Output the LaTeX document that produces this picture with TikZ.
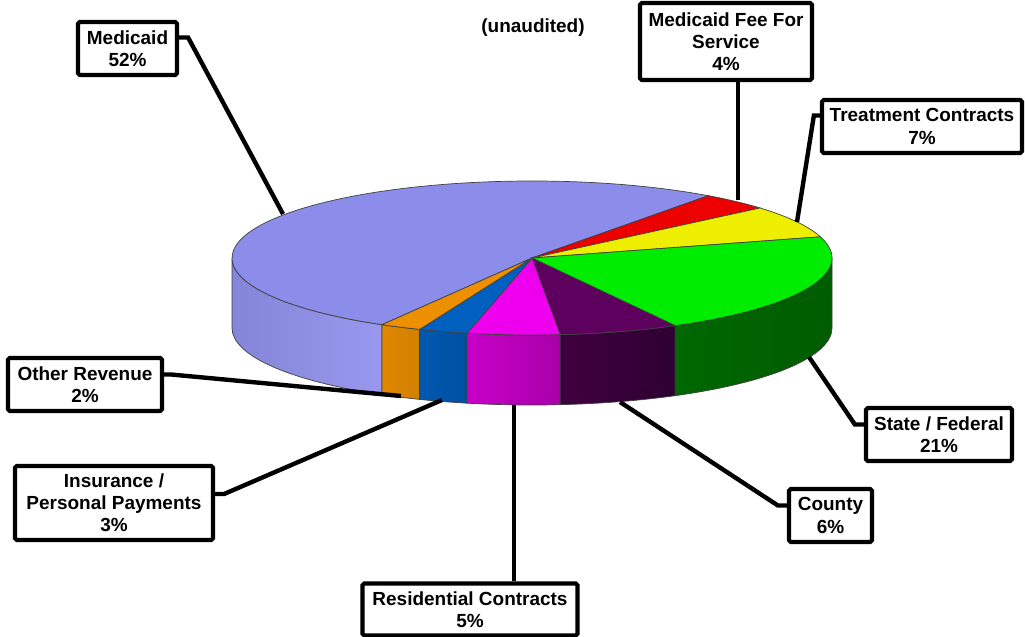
\documentclass[tikz,border=0pt]{standalone}
\usepackage{fontspec}
\setmainfont{Liberation Sans}
\usetikzlibrary{calc}

\definecolor{medtop}{RGB}{140,140,235}
\definecolor{medsideL}{RGB}{132,132,216}
\definecolor{medsideR}{RGB}{152,152,238}
\definecolor{redtop}{RGB}{236,0,0}
\definecolor{yeltop}{RGB}{238,238,0}
\definecolor{grntop}{RGB}{0,236,0}
\definecolor{grnsideL}{RGB}{0,104,0}
\definecolor{grnsideR}{RGB}{0,92,0}
\definecolor{purtop}{RGB}{94,0,94}
\definecolor{pursideL}{RGB}{64,0,64}
\definecolor{pursideR}{RGB}{46,0,50}
\definecolor{magtop}{RGB}{238,0,238}
\definecolor{magsideL}{RGB}{200,0,200}
\definecolor{magsideR}{RGB}{168,0,168}
\definecolor{blutop}{RGB}{0,96,192}
\definecolor{blusideL}{RGB}{0,88,176}
\definecolor{blusideR}{RGB}{0,80,160}
\definecolor{orgtop}{RGB}{236,144,0}
\definecolor{orgsideL}{RGB}{224,136,0}
\definecolor{orgsideR}{RGB}{208,128,0}

\tikzset{
  lbl/.style={draw, line width=2.4pt, rounded corners=1pt, fill=white, align=center,
    font=\bfseries\fontsize{10.8}{12.6}\selectfont, inner sep=1pt},
  box/.style 2 args={minimum width=#1*0.02cm, minimum height=#2*0.02cm},
  lead/.style={line width=2.5pt},
  slice/.style={draw=black!75, line width=0.4pt}
}

\begin{document}
\begin{tikzpicture}[x=0.02cm, y=0.02cm]
    \useasboundingbox (0,0) rectangle (1025,-636);
    \coordinate (c) at (532,-258);

    % side of the pie
    \foreach \a/\b/\cl/\cr in {-180/-120/medsideL/medsideR, -120/-112/orgsideL/orgsideR,
        -112/-102.5/blusideL/blusideR, -102.5/-84.6/magsideL/magsideR,
        -84.6/-61.5/pursideL/pursideR, -61.5/0/grnsideL/grnsideR}
        \draw[slice, left color=\cl, right color=\cr] ($(c)+(\a:300 and 77)$)
            arc[start angle=\a, end angle=\b, x radius=300, y radius=77] -- ++(0,-70)
            arc[start angle=\b, end angle=\a, x radius=300, y radius=77] -- cycle;

    % top of the pie
    \foreach \a/\b/\col in {54/240/medtop, 40.5/54/redtop, 16/40.5/yeltop, -61.5/16/grntop,
        -84.6/-61.5/purtop, -102.5/-84.6/magtop, -112/-102.5/blutop, -120/-112/orgtop}
        \filldraw[slice, fill=\col] (c) -- ($(c)+(\a:300 and 77)$)
            arc[start angle=\a, end angle=\b, x radius=300, y radius=77] -- cycle;

    \node[font=\bfseries\fontsize{10.8}{12.6}\selectfont] (title) at (533,-28) {(unaudited)};

    % labels
    \node[lbl, box={99}{53}] (med) at (127.5,-48.5) {Medicaid\\52\%};
    \node[lbl, box={172}{77}] (fee) at (726,-41.5) {Medicaid Fee For\\Service\\4\%};
    \node[lbl, box={200}{53}] (treat) at (922,-126.5) {Treatment Contracts\\7\%};
    \node[lbl, box={146}{53}] (state) at (939,-434.5) {State / Federal\\21\%};
    \node[lbl, box={83}{53}] (county) at (830.5,-515.5) {County\\6\%};
    \node[lbl, box={215}{52}] (res) at (470,-609.5) {Residential Contracts\\5\%};
    \node[lbl, box={198}{74}] (ins) at (114,-503) {Insurance /\\Personal Payments\\3\%};
    \node[lbl, box={154}{53}] (other) at (85,-384.5) {Other Revenue\\2\%};

    % ends of the leader lines on the pie
    \coordinate (pMed) at (283,-214);
    \coordinate (pFee) at (738,-200);
    \coordinate (pTreat) at (797,-222);
    \coordinate (pState) at (809,-357);
    \coordinate (pCounty) at (620,-402);
    \coordinate (pRes) at (514,-405);
    \coordinate (pIns) at (442,-400);
    \coordinate (pOther) at (401,-396);

    \draw[lead] ($(med.east)+(0,11)$) -- ++(9,0) -- (pMed);
    \draw[lead] ($(fee.south)+(12,0)$) -- (pFee);
    \draw[lead] ($(treat.west)+(0,11)$) -- ++(-6,0) -- (pTreat);
    \draw[lead] ($(state.west)+(0,10)$) -- ++(-9,0) -- (pState);
    \draw[lead] ($(county.west)+(0,10)$) -- ++(-9,0) -- (pCounty);
    \draw[lead] ($(res.north)+(44,0)$) -- (pRes);
    \draw[lead] ($(ins.east)+(0,9)$) -- ++(9,0) -- (pIns);
    \draw[lead] ($(other.east)+(0,10)$) -- ++(7,0) -- (pOther);
\end{tikzpicture}
\end{document}
